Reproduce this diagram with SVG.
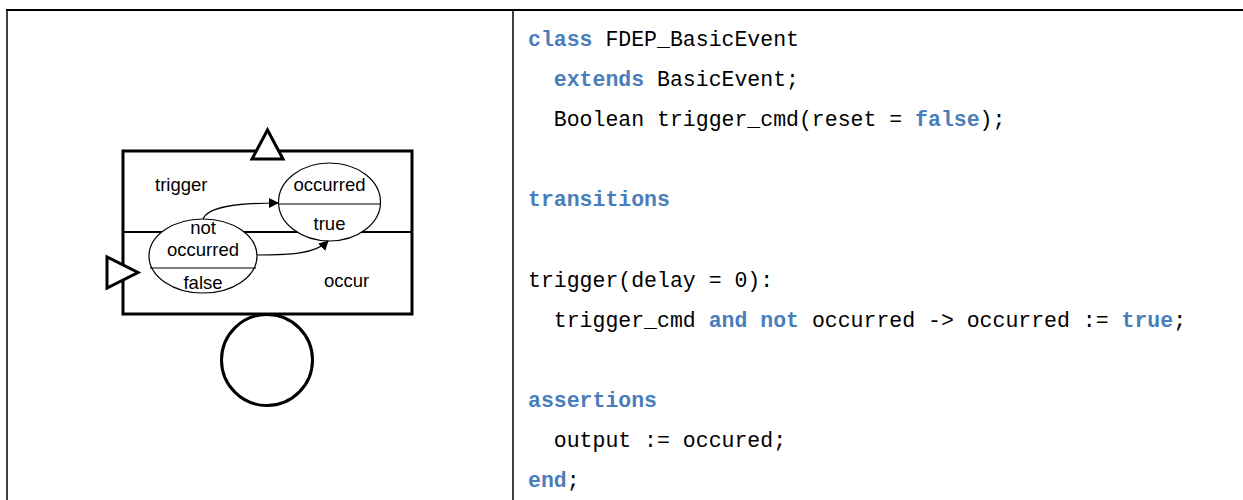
<svg xmlns="http://www.w3.org/2000/svg" width="1243" height="500" viewBox="0 0 1243 500">
  <style>
    .frame { fill: none; stroke: #000; }
    .thick { fill: #fff; stroke: #000; stroke-width: 3; }
    .state { fill: #fff; stroke: #000; stroke-width: 1.2; }
    .lbl { font-family: "Liberation Sans", Arial, sans-serif; font-size: 18.5px; fill: #000; }
    .code { font-family: "Liberation Mono", "Courier New", monospace; font-size: 21.5px; fill: #000; white-space: pre; }
    .kw { fill: #4a7ebb; font-weight: bold; }
    .conn { fill: none; stroke: #000; stroke-width: 1.2; }
  </style>
  <defs>
    <marker id="arrow" markerWidth="10" markerHeight="10" refX="9" refY="5" orient="auto" markerUnits="userSpaceOnUse">
      <path d="M0,0 L10,5 L0,10 Z" fill="#000"/>
    </marker>
  </defs>

  <rect width="1243" height="500" fill="#fff"/>

  <!-- table borders -->
  <g id="table">
    <line class="frame" x1="6" y1="10" x2="1243" y2="10" stroke-width="2"/>
    <line class="frame" x1="7" y1="10" x2="7" y2="500" stroke-width="1.5"/>
    <line class="frame" x1="513" y1="10" x2="513" y2="500" stroke-width="1.5"/>
  </g>

  <!-- component block -->
  <g id="block">
    <rect x="123" y="151" width="289" height="163" fill="#fff" stroke="#000" stroke-width="3"/>
    <line x1="123" y1="232" x2="412" y2="232" stroke="#000" stroke-width="2"/>
    <text class="lbl" x="155" y="191">trigger</text>
    <text class="lbl" x="324" y="287">occur</text>
  </g>

  <g id="input-top">
    <polygon class="thick" points="252,159 283,159 267.5,130"/>
  </g>
  <g id="input-left">
    <polygon class="thick" points="107,257 107,288 138,272.5"/>
  </g>
  <g id="output">
    <circle class="thick" cx="267" cy="360" r="45.5"/>
  </g>

  <g id="state-not-occurred">
    <ellipse class="state" cx="203" cy="256" rx="54" ry="37"/>
    <line x1="150" y1="268" x2="256" y2="268" stroke="#000" stroke-width="1.2"/>
    <text class="lbl" x="203" y="234" text-anchor="middle">not</text>
    <text class="lbl" x="203" y="256" text-anchor="middle">occurred</text>
    <text class="lbl" x="203" y="289" text-anchor="middle">false</text>
  </g>

  <g id="state-occurred">
    <ellipse class="state" cx="329.5" cy="202" rx="51" ry="39"/>
    <line x1="279" y1="204" x2="380" y2="204" stroke="#000" stroke-width="1.2"/>
    <text class="lbl" x="329.5" y="191" text-anchor="middle">occurred</text>
    <text class="lbl" x="329.5" y="230" text-anchor="middle">true</text>
  </g>

  <!-- transitions -->
  <g id="connectors">
    <path class="conn" d="M203,219 C208,206 240,203 278,203" marker-end="url(#arrow)"/>
    <path class="conn" d="M257,255 C290,255 315,254 328,241" marker-end="url(#arrow)"/>
  </g>

  <!-- source text -->
  <g id="code">
    <text class="code" x="528" y="46"><tspan class="kw">class</tspan> FDEP_BasicEvent</text>
    <text class="code" x="528" y="86">  <tspan class="kw">extends</tspan> BasicEvent;</text>
    <text class="code" x="528" y="126">  Boolean trigger_cmd(reset = <tspan class="kw">false</tspan>);</text>
    <text class="code" x="528" y="206"><tspan class="kw">transitions</tspan></text>
    <text class="code" x="528" y="287">trigger(delay = 0):</text>
    <text class="code" x="528" y="327">  trigger_cmd <tspan class="kw">and</tspan> <tspan class="kw">not</tspan> occurred -&gt; occurred := <tspan class="kw">true</tspan>;</text>
    <text class="code" x="528" y="407"><tspan class="kw">assertions</tspan></text>
    <text class="code" x="528" y="447">  output := occured;</text>
    <text class="code" x="528" y="487"><tspan class="kw">end</tspan>;</text>
  </g>
</svg>
